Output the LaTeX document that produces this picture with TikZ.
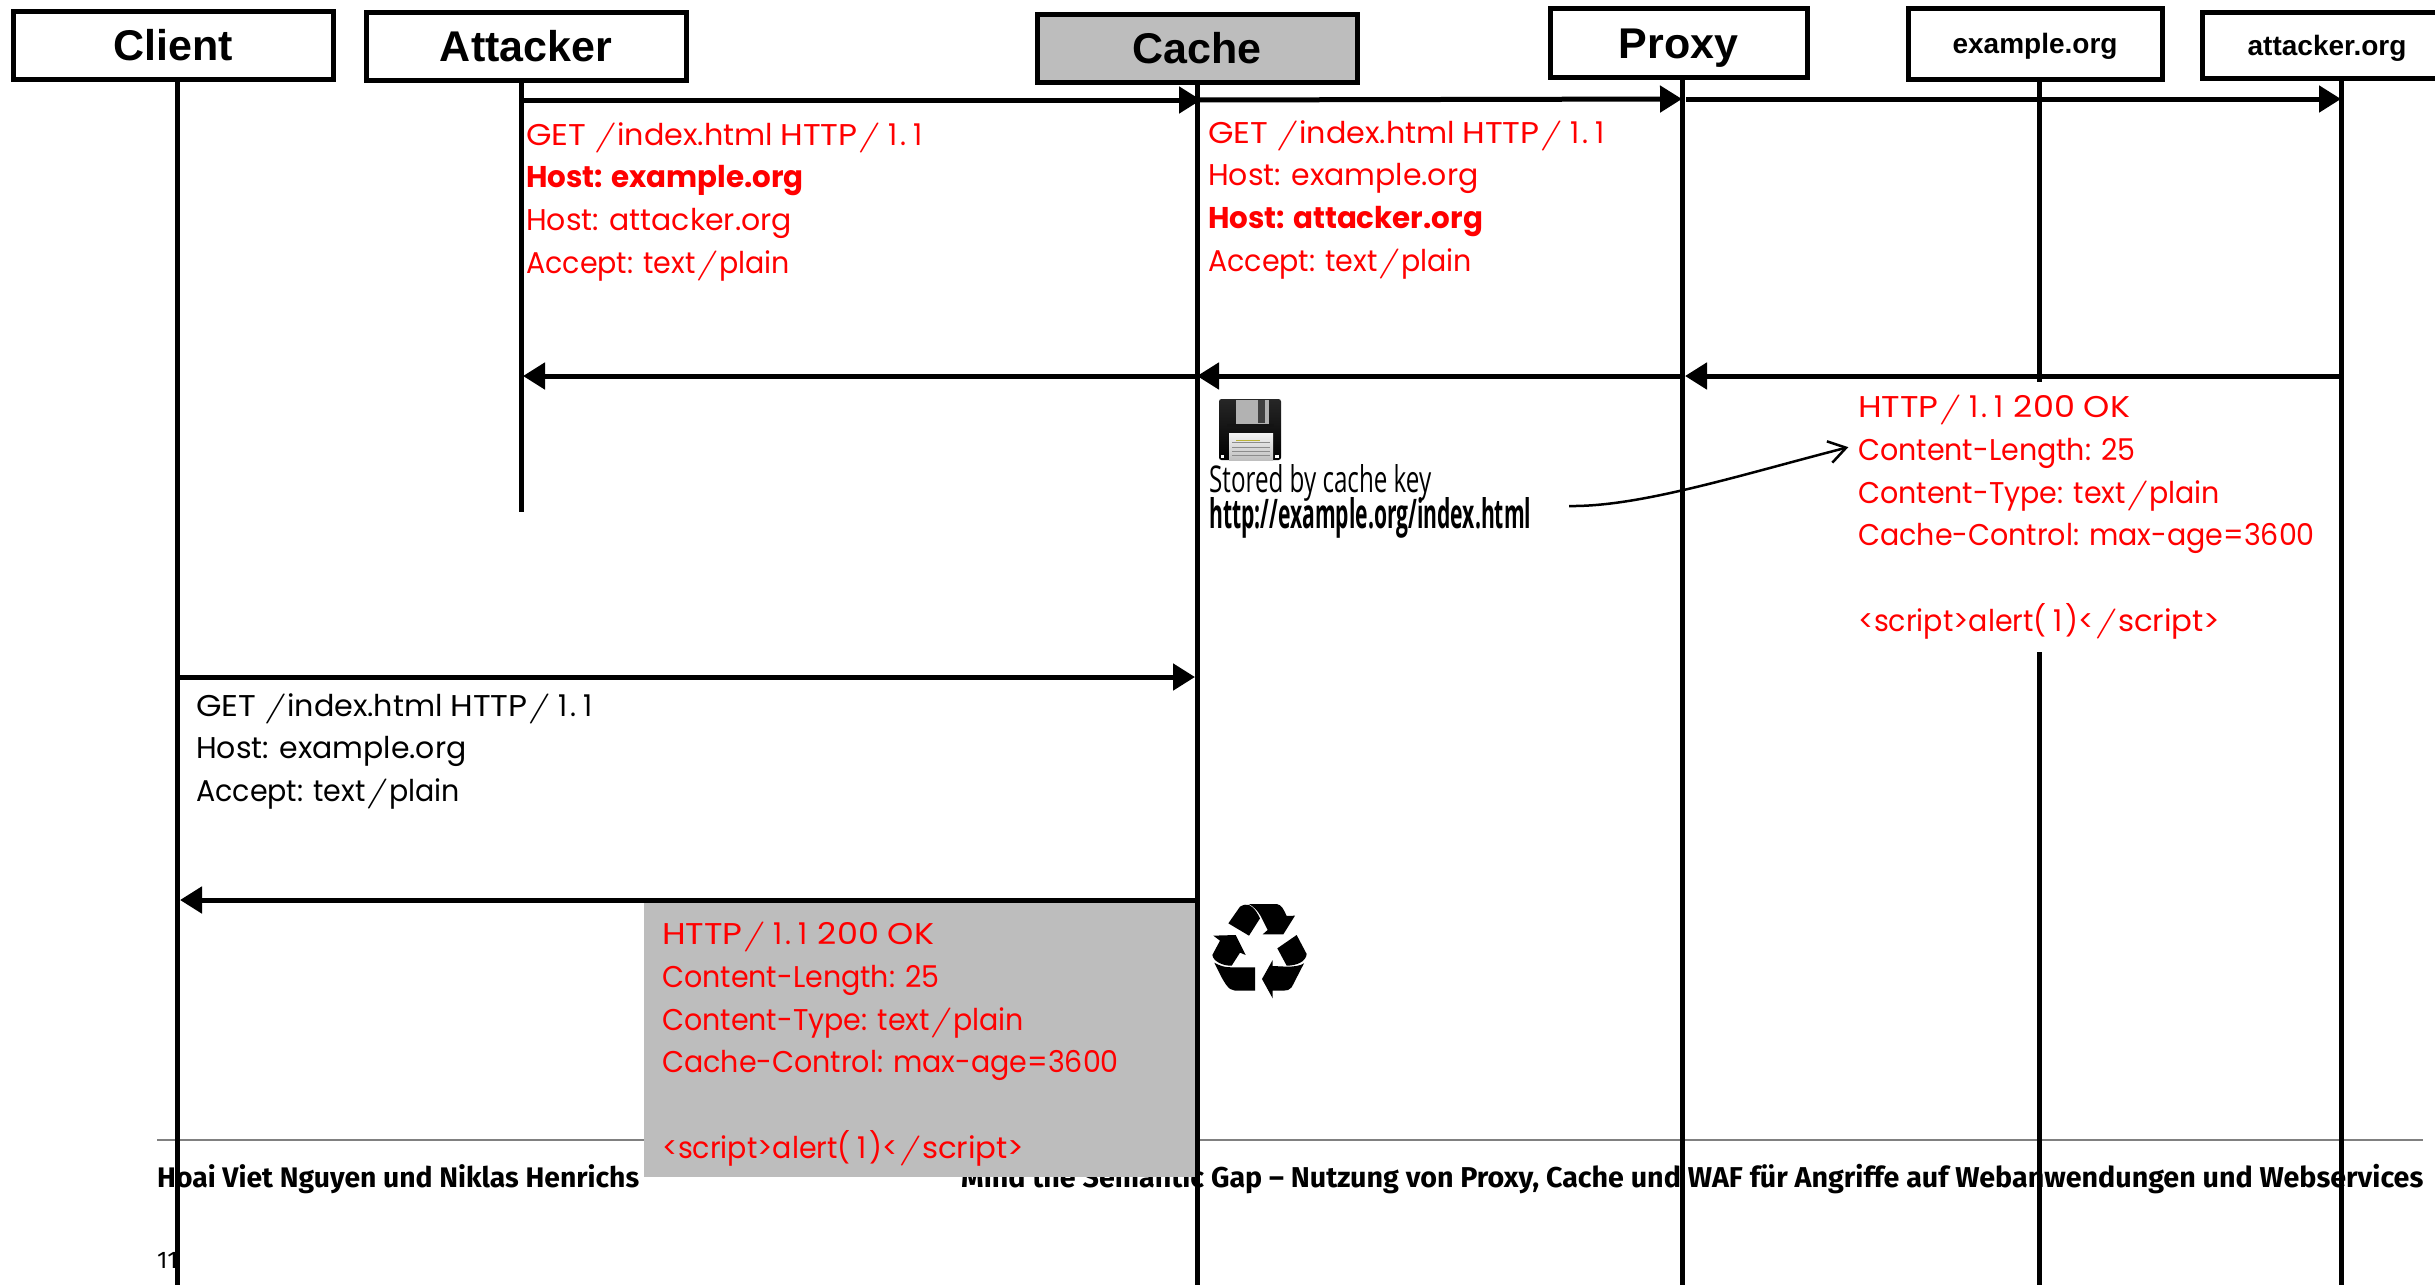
\documentclass[tikz,border=0pt]{standalone}
\usepackage{fontspec}
\usepackage{graphicx}
\usetikzlibrary{arrows.meta}
\setmainfont[FakeStretch=0.95]{Poppins}
\newfontfamily\headfont{Liberation Sans}
\newfontfamily\footfont{Fira Sans}
\newfontfamily\notefont{Open Sans}
\newfontfamily\slafont{Latin Modern Roman}
\definecolor{boxgray}{HTML}{BDBDBD}
\newcommand{\sla}{\scalebox{1.7}[1]{\slafont\mdseries /}}
\newcommand{\onee}{\hspace{7pt}1\hspace{3pt}}
\newcommand{\wid}[2]{\scalebox{#1}[1]{#2}}
\newcommand{\getline}{\wid{1.15}{GET} \sla\wid{1.06}{index.html} \wid{1.15}{HTTP}\sla\onee.\onee}
\newcommand{\okline}{\wid{1.2}{HTTP}\sla\onee.\onee\ \wid{1.17}{200 OK}}
\newcommand{\scriptline}{<script>alert(\onee)<\sla\wid{1.08}{script>}}
\tikzset{
 x=1pt,y=-1pt,
 actor/.style={draw=black,line width=5pt,outer sep=0pt,fill=white,inner sep=0pt,anchor=north west,text height=31pt,text depth=0pt,font=\headfont\bfseries\fontsize{43}{50}\selectfont},
 smallactor/.style={actor,text height=20pt,text depth=0pt,font=\headfont\bfseries\fontsize{28}{32}\selectfont},
 life/.style={line width=5pt,black},
 msg/.style={line width=5pt,black,-{Triangle[length=22pt,width=26pt]}},
 httptext/.style={anchor=north west,inner sep=0pt,align=left,font=\fontsize{30}{42.7}\selectfont},
 foot/.style={inner sep=0pt,anchor=base west,font=\footfont\bfseries\fontsize{28}{32}\selectfont},
 note/.style={inner sep=0pt,anchor=base west,font=\notefont\fontsize{26}{30}\selectfont}
}
\begin{document}
\begin{tikzpicture}
\path[use as bounding box,fill=white] (0,0) rectangle (2435,1285);
% footer
\draw[gray,line width=1.5pt] (157,1140) -- (2423,1140);
\node[foot] (fa) at (157,1187) {\resizebox{482pt}{!}{Hoai Viet Nguyen und Niklas Henrichs}};
\node[foot] (fb) at (961,1187) {\resizebox{1462pt}{!}{Mind the Semantic Gap – Nutzung von Proxy, Cache und WAF für Angriffe auf Webanwendungen und Webservices}};
\node[foot,font=\footfont\fontsize{24}{28}\selectfont] (fc) at (157,1268) {11};
% grey response box
\node[fill=boxgray,inner sep=0pt,minimum width=553pt,minimum height=276pt,anchor=north west] (grey) at (644,901) {};
% actors
\node[actor,minimum width=320pt,minimum height=68pt] (client) at (13,11) {Client};
\node[actor,minimum width=320pt,minimum height=68pt] (attacker) at (366,12) {Attacker};
\node[actor,fill=boxgray,minimum width=320pt,minimum height=68pt] (cache) at (1037,14) {Cache};
\node[actor,minimum width=257pt,minimum height=69pt] (proxy) at (1550,8) {Proxy};
\node[smallactor,minimum width=254pt,minimum height=71pt] (exorg) at (1908,8) {example.org};
\node[smallactor,minimum width=250pt,minimum height=66pt] (atorg) at (2202,12) {attacker.org};
% lifeline ends
\coordinate (clientEnd) at (177,1285);
\coordinate (attackerEnd) at (521,512);
\coordinate (cacheEnd) at (1197,1285);
\coordinate (proxyEnd) at (1682,1285);
\coordinate (exEnd) at (2039,1285);
\coordinate (atEnd) at (2341,1285);
\draw[life] (clientEnd |- client.south) -- (clientEnd);
\draw[life] (attackerEnd |- attacker.south) -- (attackerEnd);
\draw[life] (cacheEnd |- cache.south) -- (cacheEnd);
\draw[life] (proxyEnd |- proxy.south) -- (proxyEnd);
\draw[life] (exEnd |- exorg.south) -- (exEnd);
\draw[life] (atEnd |- atorg.south) -- (atEnd);
% message anchors
\coordinate (a1) at (521,100);
\coordinate (c1) at (1201,100);
\coordinate (c1b) at (1197,100);
\coordinate (p1) at (1682,99);
\coordinate (p1b) at (1686,99);
\coordinate (t1) at (2341,99);
\coordinate (t2) at (2341,376);
\coordinate (p2) at (1685,376);
\coordinate (p2b) at (1682,376);
\coordinate (c2) at (1197,376);
\coordinate (c2b) at (1197,376);
\coordinate (a2) at (523,376);
\coordinate (k1) at (177,677);
\coordinate (c3) at (1195,677);
\coordinate (c4) at (1197,900);
\coordinate (k2) at (180,900);
\draw[msg] (a1) -- (c1);
\draw[msg] (c1b) -- (p1);
\draw[msg] (p1b) -- (t1);
\draw[msg] (t2) -- (p2);
\draw[msg] (p2b) -- (c2);
\draw[msg] (c2b) -- (a2);
\draw[msg] (k1) -- (c3);
\draw[msg] (c4) -- (k2);
% texts
\node[httptext,red] (req1) at (526,122) {\getline\\\wid{1.03}{\textbf{Host: example.org}}\\\wid{1.05}{Host: attacker.org}\\Accept: text\sla plain};
\node[httptext,red] (req2) at (1208,120) {\getline\\\wid{1.05}{Host: example.org}\\\wid{1.03}{\textbf{Host: attacker.org}}\\Accept: text\sla plain};
\node[anchor=north west,fill=white,inner sep=0pt,minimum width=460pt,minimum height=270pt] (mask) at (1858,382) {};
\node[httptext,red] (resp1) at (1858,395) {\okline\\Content-Length: 25\\Content-Type: text\sla plain\\Cache-Control: max-age=3600\\[42.7pt]\scriptline};
\node[httptext] (req3) at (196,693) {\getline\\\wid{1.05}{Host: example.org}\\Accept: text\sla plain};
\node[httptext,red] (resp2) at (662,922) {\okline\\Content-Length: 25\\Content-Type: text\sla plain\\Cache-Control: max-age=3600\\[42.7pt]\scriptline};
\node[note] (n1) at (1209,492) {\resizebox{222pt}{28pt}{Stored by cache key}};
\node[note] (n2) at (1209,528) {\resizebox{322pt}{31pt}{\bfseries http://example.org/index.html}};
\coordinate (curveS) at (1569,506);
\node[inner sep=0pt] (curveE) at (1849,447) {};
\draw[line width=2.5pt,-{Straight Barb[length=17pt,width=22pt]}] (curveS) .. controls (1640,507) and (1740,475) .. (curveE);
% floppy
\begin{scope}
\shade[top color=black!85,bottom color=black,rounded corners=2.5pt] (1219,399) rectangle (1281,460);
\fill[black!30] (1236,400) rectangle (1269,424);
\fill[black!75] (1258,400) rectangle (1265,423);
\fill[black!92] (1227,424) rectangle (1274,427);
\shade[top color=white!96!black,bottom color=black!25] (1229,433) rectangle (1273,460);
\foreach \yy in {442,447,451,455}{\draw[black!45,line width=.7pt] (1232,\yy) -- (1270,\yy);}
\draw[yellow!70!black,line width=1pt] (1236,440) -- (1260,440);
\fill[white] (1220.5,454.5) rectangle (1224,458);
\fill[white] (1275,454.5) rectangle (1278.5,458);
\end{scope}
% recycle icon
\begin{scope}[shift={(1180,880)},x=.3333pt,y=-.3333pt]
\fill (145,130) -- (180,80) .. controls (190,74) and (200,72) .. (207,75) .. controls (222,82) and (232,98) .. (240,115) -- (207,167) -- cycle;
\fill (207,72) -- (290,72) .. controls (305,74) and (312,90) .. (320,108) -- (345,107) -- (310,163) -- (248,163) -- (263,150) -- (242,108) .. controls (232,90) and (220,80) .. (207,72) -- cycle;
\fill (100,167) -- (167,165) -- (197,225) -- (180,218) -- (155,257) .. controls (130,258) and (100,245) .. (97,225) -- (120,182) -- cycle;
\fill (103,248) .. controls (120,258) and (135,262) .. (155,262) -- (225,262) -- (225,332) -- (165,332) .. controls (145,330) and (135,315) .. cycle;
\fill (350,165) -- (380,222) .. controls (378,245) and (350,257) .. (320,257) -- (292,205) -- cycle;
\fill (372,250) -- (335,322) .. controls (330,330) and (320,332) .. (310,332) -- (278,332) -- (278,355) -- (246,297) -- (278,240) -- (278,258) -- (320,260) .. controls (340,260) and (360,258) .. cycle;
\end{scope}
\end{tikzpicture}
\end{document}
